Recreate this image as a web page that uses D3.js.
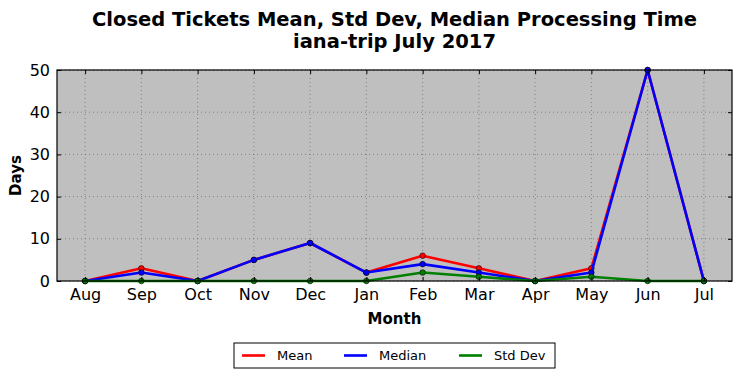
<!DOCTYPE html>
<html>
<head>
<meta charset="utf-8">
<script src="https://cdn.jsdelivr.net/npm/d3@7"></script>
<style>
  body { margin: 0; background: #fff; }
  text { font-family: "DejaVu Sans", sans-serif; }
</style>
</head>
<body>
<div id="plot"></div>
<script>
// data
var months = ["Aug", "Sep", "Oct", "Nov", "Dec", "Jan", "Feb", "Mar", "Apr", "May", "Jun", "Jul"];
var meanDays = [0, 3, 0, 5, 9, 2, 6, 3, 0, 3, 50, 0];
var medianDays = [0, 2, 0, 5, 9, 2, 4, 2, 0, 2, 50, 0];
var stdDays = [0, 0, 0, 0, 0, 0, 2, 1, 0, 1, 0, 0];
var yTicks = [0, 10, 20, 30, 40, 50];

var series = [
  {name: "Mean", values: meanDays, color: "#ff0000"},
  {name: "Median", values: medianDays, color: "#0000ff"},
  {name: "Std Dev", values: stdDays, color: "#008000"}
];

var W = 741, H = 378;
var margin = {top: 70, right: 9, bottom: 97, left: 57};
var width = W - margin.left - margin.right,
    height = H - margin.top - margin.bottom;

var svg = d3.select("#plot").append("svg")
    .attr("width", W).attr("height", H);

var x = d3.scaleLinear().domain([-0.5, months.length - 0.5]).range([0, width]);
var y = d3.scaleLinear().domain([0, 50]).range([height, 0]);

var chart = svg.append("g")
    .attr("transform", "translate(" + margin.left + "," + margin.top + ")");

chart.append("rect")
    .attr("width", width).attr("height", height)
    .style("fill", "#bfbfbf");

// grid
chart.selectAll(".vgrid").data(months).enter().append("line")
    .attr("x1", function(d, i) { return x(i); })
    .attr("x2", function(d, i) { return x(i); })
    .attr("y1", 0).attr("y2", height)
    .style("stroke", "#6e6e6e").style("stroke-width", 0.8)
    .style("stroke-dasharray", "1,3");
chart.selectAll(".hgrid").data(yTicks).enter().append("line")
    .attr("x1", 0).attr("x2", width)
    .attr("y1", function(d) { return y(d); })
    .attr("y2", function(d) { return y(d); })
    .style("stroke", "#6e6e6e").style("stroke-width", 0.8)
    .style("stroke-dasharray", "1,3");

// lines + markers
var line = d3.line()
    .x(function(d, i) { return x(i); })
    .y(function(d) { return y(d); });

series.forEach(function(s) {
  chart.append("path")
    .datum(s.values)
    .attr("d", line)
    .style("fill", "none")
    .style("stroke", s.color)
    .style("stroke-width", 2.6)
    .style("stroke-linejoin", "round");
  chart.selectAll(null).data(s.values).enter().append("circle")
    .attr("cx", function(d, i) { return x(i); })
    .attr("cy", function(d) { return y(d); })
    .attr("r", 2.8)
    .style("fill", s.color)
    .style("stroke", "#000")
    .style("stroke-width", 0.6);
});

// axes (ticks inside, all four sides)
var xIdx = d3.range(months.length);
var xAxis = d3.axisBottom(x).tickValues(xIdx)
    .tickFormat(function(i) { return months[i]; })
    .tickSizeInner(-4).tickSizeOuter(0).tickPadding(8);
var gx = chart.append("g").attr("transform", "translate(0," + height + ")").call(xAxis);
var gxt = chart.append("g").call(d3.axisTop(x).tickValues(xIdx).tickFormat("")
    .tickSizeInner(-4).tickSizeOuter(0));
var yAxis = d3.axisLeft(y).tickValues(yTicks).tickSizeInner(-4).tickSizeOuter(0).tickPadding(7);
var gy = chart.append("g").call(yAxis);
var gyr = chart.append("g").attr("transform", "translate(" + width + ",0)")
    .call(d3.axisRight(y).tickValues(yTicks).tickFormat("").tickSizeInner(-4).tickSizeOuter(0));

[gx, gxt, gy, gyr].forEach(function(g) {
  g.select(".domain").remove();
  g.selectAll("line").style("stroke", "#000");
  g.selectAll("text").style("font-size", "16px").style("font-family", "DejaVu Sans").attr("fill", "#000");
});

chart.append("rect")
    .attr("width", width).attr("height", height)
    .style("fill", "none").style("stroke", "#000").style("stroke-width", 1.2);

// labels
svg.append("text")
    .attr("x", margin.left + width / 2).attr("y", 324)
    .attr("text-anchor", "middle")
    .style("font-size", "15px").style("font-weight", "bold")
    .text("Month");
svg.append("text")
    .attr("transform", "translate(21," + (margin.top + height / 2) + ") rotate(-90)")
    .attr("text-anchor", "middle")
    .style("font-size", "15px").style("font-weight", "bold")
    .text("Days");

var title = svg.append("text")
    .attr("text-anchor", "middle")
    .style("font-size", "19.5px").style("font-weight", "bold");
title.append("tspan").attr("x", margin.left + width / 2).attr("y", 26)
    .text("Closed Tickets Mean, Std Dev, Median Processing Time");
title.append("tspan").attr("x", margin.left + width / 2).attr("y", 48)
    .text("iana-trip July 2017");

// legend
var legend = svg.append("g").attr("transform", "translate(234,343)");
legend.append("rect")
    .attr("width", 321).attr("height", 25)
    .style("fill", "#fff").style("stroke", "#000").style("stroke-width", 1);
var legendX = [8, 110, 225];
series.forEach(function(s, i) {
  legend.append("line")
    .attr("x1", legendX[i]).attr("x2", legendX[i] + 23)
    .attr("y1", 12.5).attr("y2", 12.5)
    .style("stroke", s.color).style("stroke-width", 2.6);
  legend.append("text")
    .attr("x", legendX[i] + 35).attr("y", 17)
    .style("font-size", "13px")
    .text(s.name);
});
</script>
</body>
</html>
